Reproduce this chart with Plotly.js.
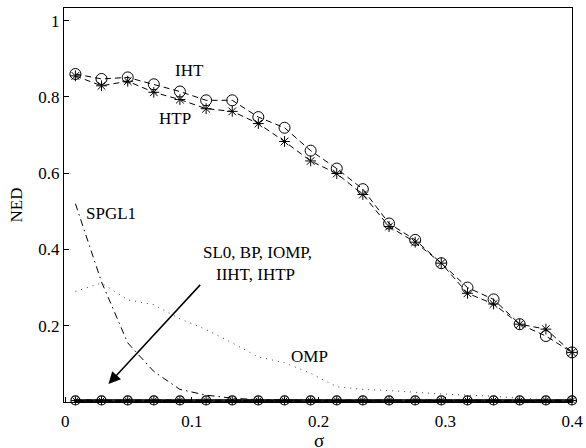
<!DOCTYPE html>
<html>
<head>
<meta charset="utf-8">
<script src="https://cdn.plot.ly/plotly-3.0.1.min.js"></script>
<style>html,body{margin:0;padding:0;background:#fff}#chart{width:586px;height:448px}
#chart text{font-family:"Liberation Serif","Times New Roman",serif !important}</style>
</head>
<body>
<div id="chart"></div>
<script>
const sigma = [0.008, 0.0286, 0.0493, 0.0699, 0.0905, 0.1112, 0.1318, 0.1524, 0.1731, 0.1937,
               0.2143, 0.2349, 0.2556, 0.2762, 0.2968, 0.3175, 0.3381, 0.3587, 0.3794, 0.4];
const nedIHT = [0.860, 0.847, 0.851, 0.833, 0.814, 0.791, 0.791, 0.747, 0.719, 0.659,
                0.612, 0.558, 0.468, 0.425, 0.364, 0.300, 0.269, 0.204, 0.173, 0.130];
const nedHTP = [0.855, 0.829, 0.841, 0.812, 0.793, 0.769, 0.762, 0.730, 0.683, 0.632,
                0.599, 0.544, 0.460, 0.419, 0.364, 0.285, 0.257, 0.204, 0.191, 0.130];
const nedSPGL1 = [0.520, 0.315, 0.155, 0.080, 0.033, 0.018, 0.010, 0.006, 0.005, 0.004,
                  0.004, 0.004, 0.004, 0.004, 0.004, 0.004, 0.004, 0.004, 0.004, 0.004];
const nedOMP = [0.290, 0.312, 0.268, 0.255, 0.218, 0.190, 0.155, 0.118, 0.103, 0.075,
                0.040, 0.033, 0.030, 0.025, 0.021, 0.018, 0.015, 0.010, 0.006, 0.004];
const nedSL0 = [0.003, 0.003, 0.003, 0.003, 0.003, 0.003, 0.003, 0.003, 0.003, 0.003,
                0.003, 0.003, 0.003, 0.003, 0.003, 0.003, 0.003, 0.003, 0.003, 0.003];
const nedBP = [0.002, 0.002, 0.002, 0.002, 0.002, 0.002, 0.002, 0.002, 0.002, 0.002,
               0.002, 0.002, 0.002, 0.002, 0.002, 0.002, 0.002, 0.002, 0.002, 0.002];
const nedIOMP = [0.003, 0.003, 0.003, 0.003, 0.003, 0.003, 0.003, 0.003, 0.003, 0.003,
                 0.003, 0.003, 0.003, 0.003, 0.003, 0.003, 0.003, 0.003, 0.003, 0.003];
const nedIIHT = [0.004, 0.004, 0.004, 0.004, 0.004, 0.004, 0.004, 0.004, 0.004, 0.004,
                 0.004, 0.004, 0.004, 0.004, 0.004, 0.004, 0.004, 0.004, 0.004, 0.004];
const nedIHTP = [0.004, 0.004, 0.004, 0.004, 0.004, 0.004, 0.004, 0.004, 0.004, 0.004,
                 0.004, 0.004, 0.004, 0.004, 0.004, 0.004, 0.004, 0.004, 0.004, 0.004];
const yTickVals = [0.2, 0.4, 0.6, 0.8, 1];
const yTickText = ['0.2', '0.4', '0.6', '0.8', '1'];
const xTickVals = [0, 0.1, 0.2, 0.3, 0.4];
const xTickText = ['0', '0.1', '0.2', '0.3', '0.4'];

const F = 'Liberation Serif';
const traces = [
  {x: sigma, y: nedSL0, mode: 'lines', name: 'SL0', line: {color: '#000', width: 3}, cliponaxis: false},
  {x: sigma, y: nedBP, mode: 'lines', name: 'BP', line: {color: '#000', width: 2}, cliponaxis: false},
  {x: sigma, y: nedIOMP, mode: 'lines', name: 'IOMP', line: {color: '#222', width: 2, dash: '6px,3px'}, cliponaxis: false},
  {x: sigma, y: nedIIHT, mode: 'lines+markers', name: 'IIHT', line: {color: '#000', width: 1.5, dash: '6px,4px'},
   marker: {symbol: 'circle-open', size: 9, color: '#000', line: {width: 1.2}}, cliponaxis: false},
  {x: sigma, y: nedIHTP, mode: 'lines+markers', name: 'IHTP', line: {color: '#000', width: 1.5, dash: '6px,4px'},
   marker: {symbol: 'asterisk-open', size: 7, color: '#000', line: {width: 1}}, cliponaxis: false},
  {x: sigma, y: nedOMP, mode: 'lines', name: 'OMP', line: {color: '#444', width: 1, dash: '1px,5px'}},
  {x: sigma, y: nedSPGL1, mode: 'lines', name: 'SPGL1', line: {color: '#000', width: 1, dash: '7px,4px,1.5px,4px'}},
  {x: sigma, y: nedIHT, mode: 'lines+markers', name: 'IHT', line: {color: '#000', width: 1, dash: '6px,4px'},
   marker: {symbol: 'circle-open', size: 11, color: '#000', line: {width: 1}}, cliponaxis: false},
  {x: sigma, y: nedHTP, mode: 'lines+markers', name: 'HTP', line: {color: '#000', width: 1, dash: '6px,4px'},
   marker: {symbol: 'asterisk-open', size: 9, color: '#000', line: {width: 1}}, cliponaxis: false}
];

const ann = (text, x, y) => ({text, x, y, xref: 'x', yref: 'y', showarrow: false,
  font: {family: F, size: 17, color: '#000'}, xanchor: 'center', yanchor: 'middle'});

const layout = {
  width: 586, height: 448,
  margin: {l: 64, r: 14, t: 8, b: 46},
  paper_bgcolor: '#fff', plot_bgcolor: '#fff',
  showlegend: false,
  font: {family: F, size: 17, color: '#000'},
  xaxis: {range: [-0.001, 0.4], tickvals: xTickVals, ticktext: xTickText, ticks: 'inside', ticklen: 5,
          ticklabelstandoff: 4,
          tickcolor: '#000', showgrid: false, zeroline: false, showline: true, linecolor: '#000', linewidth: 1,
          mirror: true, tickfont: {family: F, size: 17}},
  yaxis: {range: [0, 1.033], tickvals: yTickVals, ticktext: yTickText, ticks: 'inside', ticklen: 5,
          tickcolor: '#000', showgrid: false, zeroline: false, showline: true, linecolor: '#000', linewidth: 1,
          mirror: true, title: {text: 'NED', font: {family: F, size: 17}, standoff: 11},
          tickfont: {family: F, size: 17}},
  annotations: [
    ann('IHT', 0.0984, 0.870),
    ann('HTP', 0.0866, 0.744),
    ann('SPGL1', 0.0358, 0.494),
    ann('OMP', 0.193, 0.119),
    ann('SL0, BP, IOMP,', 0.152, 0.392),
    ann('IIHT, IHTP', 0.150, 0.335),
    {text: 'σ', x: 0.2, xref: 'x', y: 0, yref: 'paper', yshift: -38, showarrow: false,
     xanchor: 'center', yanchor: 'middle', font: {family: F, size: 19, color: '#000'}},
    {x: 0.0341, y: 0.047, ax: 0.1076, ay: 0.311, axref: 'x', ayref: 'y', xref: 'x', yref: 'y',
     text: '', showarrow: true, arrowhead: 2, arrowsize: 1.6, arrowwidth: 1.5, arrowcolor: '#000'}
  ]
};
Plotly.newPlot('chart', traces, layout, {staticPlot: true});
</script>
</body>
</html>
